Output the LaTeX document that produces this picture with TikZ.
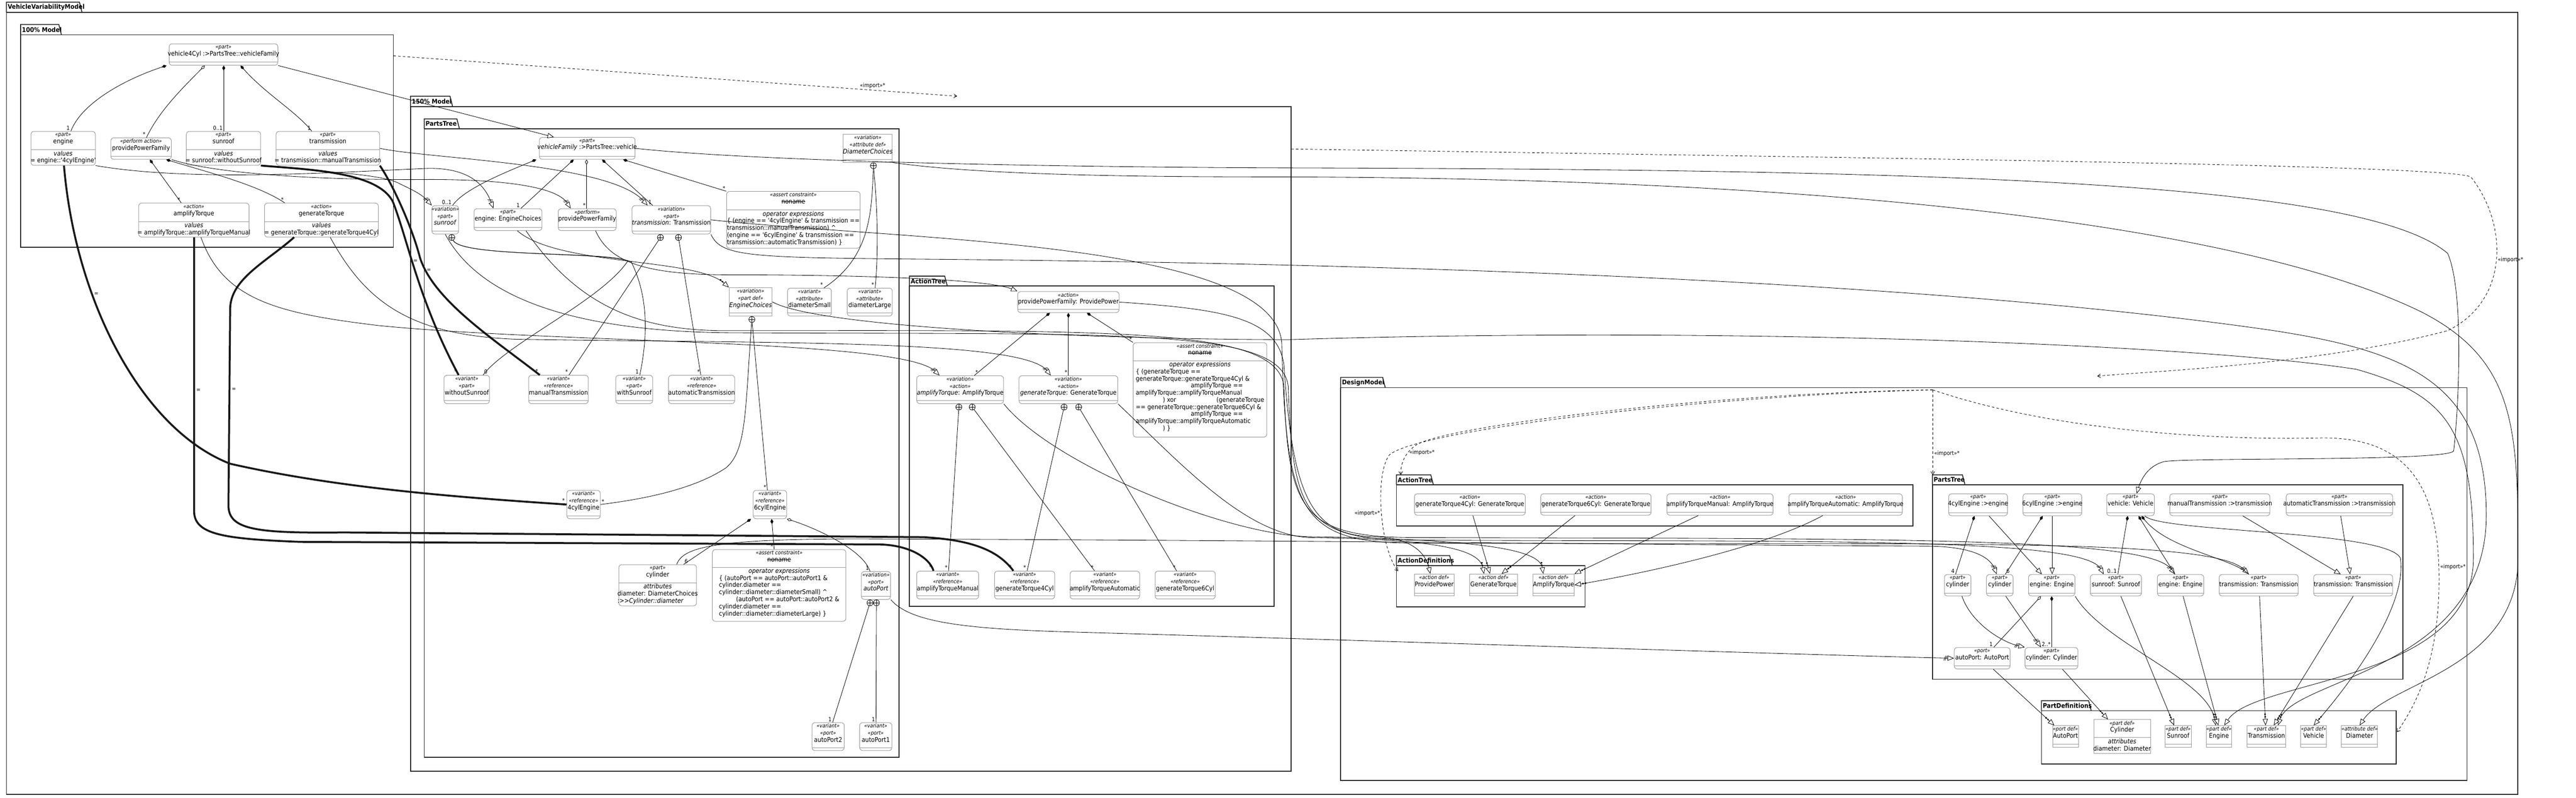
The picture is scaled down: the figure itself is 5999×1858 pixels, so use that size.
\documentclass[tikz,border=0pt]{standalone}
\usepackage{fontspec}
\setmainfont{DejaVu Sans Condensed}[Ligatures=TeXOff]
\usetikzlibrary{arrows.meta,fit}

\newcommand{\nmsize}{\fontsize{15}{16.5}\selectfont}
\newcommand{\st}[1]{{\fontsize{12.5}{16.5}\selectfont\itshape «#1»}}
\newcommand{\strk}[1]{\setbox0\hbox{#1}\rlap{\rule[0.3em]{\wd0}{0.8pt}}\box0}
\newcommand{\ubox}[7][usage]{%
  \node[#1, fit={(#3,#4) (#5,#6)}] (#2) {};
  \draw[sepl] (#3,{#6-7}) -- (#5,{#6-7});
  \node[hdr] at (#2.north) {#7};}
\newcommand{\cbox}[9][usage]{%
  \node[#1, fit={(#3,#4) (#5,#6)}] (#2) {};
  \draw[sepl] (#3,#8) -- (#5,#8);
  \node[hdr] at (#2.north) {#7};
  \node[cmp] at ({(#3+#5)/2},#8) {#9};}
\newcommand{\pkg}[8]{%
  \draw[frm] (#2,#5) rectangle (#6,#7);
  \draw[frm] (#2,#5) -- (#2,#3) -- ({#4-6},#3) -- (#4,#5);
  \node[tabl] (#1) at (#2,{(#3+#5)/2}) {#8};}

\begin{document}
\begin{tikzpicture}[x=1pt,y=-1pt,
    usage/.style={draw=black!40, line width=1.2pt, rounded corners=7pt, fill=white, inner sep=0pt},
    pdef/.style={draw=black!40, line width=1.2pt, fill=white, inner sep=0pt},
    sepl/.style={draw=black!40, line width=1.2pt},
    hdr/.style={anchor=north, align=center, inner sep=2pt, yshift=-1pt, font=\nmsize},
    cmp/.style={anchor=north, align=center, inner sep=2pt, font=\nmsize},
    frm/.style={draw=black!85, line width=2pt},
    tabl/.style={anchor=west, inner sep=3pt, font=\fontsize{15}{16}\selectfont\bfseries},
    conn/.style={draw, line width=1pt},
    comp/.style={conn, {Diamond[length=12pt,width=7pt]}-},
    aggr/.style={conn, {Diamond[length=12pt,width=7pt,fill=white]}-},
    gen/.style={conn, -{Triangle[length=15pt,width=12pt,fill=white]}},
    redef/.style={conn, -{Bar[width=11pt,slant=.4,sep=2pt]Bar[width=11pt,slant=.4,sep=3pt]Triangle[length=15pt,width=12pt,fill=white]}},
    typing/.style={conn, -{Circle[length=4pt,sep=2pt]Circle[length=4pt,sep=3pt]Triangle[length=15pt,width=12pt,fill=white]}},
    bind/.style={draw=black!90, line width=4.5pt},
    import/.style={conn, dash pattern=on 6pt off 5pt, -{Straight Barb[length=7pt,width=9pt]}},
    memb/.style={circle, draw, fill=white, minimum size=14pt, inner sep=0pt, line width=1pt,
      path picture={\draw[line width=1pt] (path picture bounding box.north) -- (path picture bounding box.south)
        (path picture bounding box.west) -- (path picture bounding box.east);}},
    mult/.style={font=\fontsize{13}{14}\selectfont, inner sep=2pt, anchor=south east},
    eq/.style={font=\fontsize{13}{14}\selectfont, inner sep=3pt, anchor=west},
    implbl/.style={font=\fontsize{13}{14}\selectfont, inner sep=3pt}]
  \useasboundingbox (0,0) rectangle (5999,1858);

  \pkg{tVVM}{15}{5}{191}{29}{5863}{1850}{VehicleVariabilityModel}
  \pkg{t100}{48}{57}{143}{81}{916}{576}{100\% Model}
  \pkg{t150}{956}{224}{1054}{248}{3007}{1796}{150\% Model}
  \pkg{tPT}{988}{277}{1070}{300}{2094}{1764}{PartsTree}
  \pkg{tAT}{2118}{643}{2206}{666}{2967}{1412}{ActionTree}
  \pkg{tDM}{3122}{879}{3226}{903}{5745}{1818}{DesignModel}
  \pkg{tDAT}{3252}{1106}{3338}{1129}{4455}{1225}{ActionTree}
  \pkg{tDAD}{3252}{1294}{3382}{1317}{3691}{1413}{ActionDefinitions}
  \pkg{tDPT}{4500}{1106}{4576}{1129}{5596}{1582}{PartsTree}
  \pkg{tDPD}{4754}{1632}{4870}{1655}{5580}{1779}{PartDefinitions}

  \ubox{v4}{394}{102}{647}{152}{\st{part}\\vehicle4Cyl :>PartsTree::vehicleFamily}
  \cbox{eng100}{72}{306}{222}{385}{\st{part}\\engine}{349}{\textit{values}\\= engine::'4cylEngine'}
  \ubox{ppf100}{258}{321}{399}{371}{\st{perform action}\\providePowerFamily}
  \cbox{sun100}{434}{306}{607}{385}{\st{part}\\sunroof}{349}{\textit{values}\\= sunroof::withoutSunroof}
  \cbox{trn100}{643}{306}{884}{385}{\st{part}\\transmission}{349}{\textit{values}\\= transmission::manualTransmission}
  \cbox{amp100}{323}{473}{580}{552}{\st{action}\\amplifyTorque}{516}{\textit{values}\\= amplifyTorque::amplifyTorqueManual}
  \cbox{gen100}{616}{473}{881}{552}{\st{action}\\generateTorque}{516}{\textit{values}\\= generateTorque::generateTorque4Cyl}

  \ubox{vf}{1256}{320}{1479}{371}{\st{part}\\\textit{vehicleFamily} :>PartsTree::vehicle}
  \ubox[pdef]{dch}{1964}{313}{2078}{378}{\st{variation}\\\st{attribute def}\\\textit{DiameterChoices}}
  \ubox{sun150}{1006}{479}{1068}{545}{\st{variation}\\\st{part}\\\textit{sunroof}}
  \ubox{eng150}{1104}{486}{1262}{537}{\st{part}\\engine: EngineChoices}
  \ubox{ppf150}{1300}{486}{1435}{537}{\st{perform}\\providePowerFamily}
  \ubox{trn150}{1472}{479}{1655}{545}{\st{variation}\\\st{part}\\\textit{transmission}: Transmission}
  \cbox{con1}{1692}{446}{2003}{578}{\st{assert constraint}\\\strk{noname}}{489}{\begin{tabular}{@{}l@{}}\multicolumn{1}{@{}c@{}}{\textit{operator expressions}}\\
    \{ (engine == '4cylEngine' \& transmission ==\\
    transmission::manualTransmission) \textasciicircum\\
    (engine == '6cylEngine' \& transmission ==\\
    transmission::automaticTransmission) \}\end{tabular}}
  \ubox[pdef]{ech}{1698}{670}{1798}{736}{\st{variation}\\\st{part def}\\\textit{EngineChoices}}
  \ubox{dsm}{1834}{671}{1936}{736}{\st{variant}\\\st{attribute}\\diameterSmall}
  \ubox{dlg}{1973}{671}{2078}{736}{\st{variant}\\\st{attribute}\\diameterLarge}
  \ubox{wos}{1034}{874}{1140}{940}{\st{variant}\\\st{part}\\withoutSunroof}
  \ubox{mtr}{1231}{874}{1370}{940}{\st{variant}\\\st{reference}\\manualTransmission}
  \ubox{wsr}{1434}{874}{1520}{940}{\st{variant}\\\st{part}\\withSunroof}
  \ubox{atr}{1557}{874}{1711}{940}{\st{variant}\\\st{reference}\\automaticTransmission}
  \ubox{e4}{1320}{1142}{1398}{1208}{\st{variant}\\\st{reference}\\4cylEngine}
  \ubox{e6}{1754}{1142}{1832}{1208}{\st{variant}\\\st{reference}\\6cylEngine}
  \cbox{cyl150}{1441}{1315}{1622}{1411}{\st{part}\\cylinder}{1357}{\begin{tabular}{@{}l@{}}\multicolumn{1}{@{}c@{}}{\textit{attributes}}\\
    diameter: DiameterChoices\\:>>\textit{Cylinder::diameter}\end{tabular}}
  \cbox{con2}{1659}{1280}{1970}{1447}{\st{assert constraint}\\\strk{noname}}{1321}{\begin{tabular}{@{}l@{}}\multicolumn{1}{@{}c@{}}{\textit{operator expressions}}\\
    \{ (autoPort == autoPort::autoPort1 \&\\
    cylinder.diameter ==\\
    cylinder::diameter::diameterSmall) \textasciicircum\\
    \hspace*{40pt}(autoPort == autoPort::autoPort2 \&\\
    cylinder.diameter ==\\
    cylinder::diameter::diameterLarge) \}\end{tabular}}
  \ubox{apv}{2006}{1331}{2074}{1396}{\st{variation}\\\st{port}\\\textit{autoPort}}
  \ubox{ap2}{1891}{1683}{1966}{1748}{\st{variant}\\\st{port}\\autoPort2}
  \ubox{ap1}{2002}{1683}{2077}{1748}{\st{variant}\\\st{port}\\autoPort1}

  \ubox{ppfa}{2370}{679}{2606}{728}{\st{action}\\providePowerFamily: ProvidePower}
  \ubox{ampv}{2135}{875}{2337}{940}{\st{variation}\\\st{action}\\\textit{amplifyTorque}: AmplifyTorque}
  \ubox{genv}{2373}{875}{2603}{940}{\st{variation}\\\st{action}\\\textit{generateTorque}: GenerateTorque}
  \cbox{con3}{2639}{798}{2950}{1018}{\st{assert constraint}\\\strk{noname}}{840}{\begin{tabular}{@{}l@{}}\multicolumn{1}{@{}c@{}}{\textit{operator expressions}}\\
    \{ (generateTorque ==\\
    generateTorque::generateTorque4Cyl \&\\
    \hspace*{128pt}amplifyTorque ==\\
    amplifyTorque::amplifyTorqueManual\\
    \hspace*{63pt}) xor\hspace*{94pt}(generateTorque\\
    == generateTorque::generateTorque6Cyl \&\\
    \hspace*{128pt}amplifyTorque ==\\
    amplifyTorque::amplifyTorqueAutomatic\\
    \hspace*{63pt}) \}\end{tabular}}
  \ubox{atm}{2135}{1330}{2279}{1395}{\st{variant}\\\st{reference}\\amplifyTorqueManual}
  \ubox{gt4}{2316}{1330}{2456}{1395}{\st{variant}\\\st{reference}\\generateTorque4Cyl}
  \ubox{ata}{2492}{1330}{2654}{1395}{\st{variant}\\\st{reference}\\amplifyTorqueAutomatic}
  \ubox{gt6}{2690}{1330}{2830}{1395}{\st{variant}\\\st{reference}\\generateTorque6Cyl}

  \ubox{dgt4}{3294}{1150}{3552}{1200}{\st{action}\\generateTorque4Cyl: GenerateTorque}
  \ubox{dgt6}{3588}{1150}{3845}{1200}{\st{action}\\generateTorque6Cyl: GenerateTorque}
  \ubox{datm}{3882}{1150}{4129}{1200}{\st{action}\\amplifyTorqueManual: AmplifyTorque}
  \ubox{data}{4166}{1150}{4430}{1200}{\st{action}\\amplifyTorqueAutomatic: AmplifyTorque}
  \ubox[pdef]{dpp}{3294}{1337}{3386}{1388}{\st{action def}\\ProvidePower}
  \ubox[pdef]{dgt}{3422}{1337}{3534}{1388}{\st{action def}\\GenerateTorque}
  \ubox[pdef]{dat}{3570}{1337}{3666}{1388}{\st{action def}\\AmplifyTorque}

  \ubox{d4e}{4538}{1150}{4675}{1201}{\st{part}\\4cylEngine :>engine}
  \ubox{d6e}{4711}{1150}{4848}{1201}{\st{part}\\6cylEngine :>engine}
  \ubox{dveh}{4906}{1150}{5017}{1201}{\st{part}\\vehicle: Vehicle}
  \ubox{dmt}{5053}{1150}{5286}{1201}{\st{part}\\manualTransmission :>transmission}
  \ubox{dat2}{5324}{1150}{5572}{1201}{\st{part}\\automaticTransmission :>transmission}
  \ubox{dc4}{4528}{1338}{4590}{1388}{\st{part}\\cylinder}
  \ubox{dc6}{4626}{1338}{4688}{1388}{\st{part}\\cylinder}
  \ubox{den1}{4724}{1338}{4832}{1388}{\st{part}\\engine: Engine}
  \ubox{dsun}{4868}{1338}{4987}{1388}{\st{part}\\sunroof: Sunroof}
  \ubox{den2}{5024}{1338}{5132}{1388}{\st{part}\\engine: Engine}
  \ubox{dtr1}{5168}{1338}{5352}{1388}{\st{part}\\transmission: Transmission}
  \ubox{dtr2}{5388}{1338}{5572}{1388}{\st{part}\\transmission: Transmission}
  \ubox{dap}{4551}{1508}{4681}{1558}{\st{port}\\autoPort: AutoPort}
  \ubox{dcyl}{4716}{1508}{4839}{1558}{\st{part}\\cylinder: Cylinder}
  \ubox[pdef]{pAP}{4780}{1690}{4840}{1740}{\st{port def}\\AutoPort}
  \cbox[pdef]{pCyl}{4876}{1676}{5008}{1755}{\st{part def}\\Cylinder}{1718}{\textit{attributes}\\diameter: Diameter}
  \ubox[pdef]{pSun}{5042}{1690}{5103}{1740}{\st{part def}\\Sunroof}
  \ubox[pdef]{pEng}{5138}{1690}{5197}{1740}{\st{part def}\\Engine}
  \ubox[pdef]{pTr}{5233}{1690}{5323}{1740}{\st{part def}\\Transmission}
  \ubox[pdef]{pVeh}{5358}{1690}{5418}{1740}{\st{part def}\\Vehicle}
  \ubox[pdef]{pDia}{5453}{1690}{5537}{1740}{\st{attribute def}\\Diameter}

  \node[memb] (sun150m) at (1052,553) {};
  \node[memb] (trn150m1) at (1538,553) {};
  \node[memb] (trn150m2) at (1580,553) {};
  \node[memb] (echm) at (1751,744) {};
  \node[memb] (dchm) at (2034,386) {};
  \node[memb] (apvm1) at (2026,1404) {};
  \node[memb] (apvm2) at (2041,1404) {};
  \node[memb] (ampvm1) at (2233,948) {};
  \node[memb] (ampvm2) at (2264,948) {};
  \node[memb] (genvm1) at (2478,948) {};
  \node[memb] (genvm2) at (2512,948) {};

  \coordinate (imp100) at (916,130);
  \coordinate (imp150) at (2229,224);
  \coordinate (imp150r) at (3007,347);
  \coordinate (impDM) at (4884,876);
  \coordinate (impsrc) at (4501,908);
  \coordinate (impAT) at (3262,1106);
  \coordinate (impAD) at (3256,1330);
  \coordinate (impPT) at (4501,1106);
  \coordinate (impPD) at (5582,1705);

  \draw[comp] (v4.south -| 388,0) .. controls (290,185) and (190,240) .. (eng100.north -| 165,0) node[mult,pos=1]{1};
  \draw[aggr] (v4.south -| 477,0) .. controls (420,210) and (370,260) .. (ppf100.north -| 341,0) node[mult,pos=1]{*};
  \draw[comp] (v4.south -| 521,0) -- (sun100.north -| 521,0) node[mult,pos=1]{0..1};
  \draw[comp] (v4.south -| 560,0) .. controls (620,220) and (690,260) .. (trn100.north -| 726,0) node[mult,pos=1]{1};
  \draw[comp] (ppf100.south -| 349,0) -- (amp100.north -| 422,0) node[mult,pos=1]{*};
  \draw[comp] (ppf100.south -| 387,0) .. controls (480,400) and (600,430) .. (gen100.north -| 663,0) node[mult,pos=1]{*};
  \draw[gen] (v4.south east) -- (vf.north -| 1290,0);

  \draw[comp] (vf.south -| 1249,0) .. controls (1180,400) and (1080,440) .. (sun150.north -| 1054,0) node[mult,pos=1]{0..1};
  \draw[comp] (vf.south -| 1336,0) -- (eng150.north -| 1213,0) node[mult,pos=1]{1};
  \draw[aggr] (vf.south -| 1366,0) -- (ppf150.north -| 1366,0) node[mult,pos=1]{*};
  \draw[comp] (vf.south -| 1402,0) -- (trn150.north -| 1520,0) node[mult,pos=1]{1};
  \draw[comp] (vf.south -| 1451,0) -- (con1.north west) node[mult,pos=1]{*};
  \draw[conn] (sun150m) .. controls (1075,600) and (1420,585) .. (1462,608) .. controls (1400,700) and (1180,800) .. (wos.north -| 1125,0) node[mult,pos=1,anchor=south west]{0};
  \draw[conn] (sun150m) .. controls (1075,600) and (1420,585) .. (1470,610) .. controls (1515,700) and (1505,800) .. (wsr.north -| 1490,0) node[mult,pos=1]{1};
  \draw[conn] (trn150m1) -- (mtr.north -| 1325,0) node[mult,pos=1]{*};
  \draw[conn] (trn150m2) -- (atr.north -| 1632,0) node[mult,pos=1]{*};
  \draw[conn] (echm) .. controls (1735,950) and (1740,1050) .. (1690,1090) .. controls (1600,1150) and (1450,1168) .. (e4.east) node[mult,pos=1,anchor=south west]{*};
  \draw[conn] (echm) -- (e6.north -| 1787,0) node[mult,pos=1]{*};
  \draw[conn] (dchm) .. controls (2030,500) and (2025,600) .. (dsm.north -| 1919,0) node[mult,pos=1]{*};
  \draw[conn] (dchm) .. controls (2045,500) and (2045,600) .. (dlg.north -| 2038,0) node[mult,pos=1]{*};
  \draw[comp] (e6.south -| 1749,0) -- (cyl150.north -| 1592,0) node[mult,pos=1,anchor=south west]{6};
  \draw[comp] (e6.south -| 1797,0) -- (con2.north -| 1803,0) node[mult,pos=1]{*};
  \draw[aggr] (e6.south east) .. controls (1900,1230) and (2010,1280) .. (apv.north -| 2026,0) node[mult,pos=1]{1};
  \draw[conn] (apvm1) -- (ap2.north -| 1939,0) node[mult,pos=1]{1};
  \draw[conn] (apvm2) -- (ap1.north -| 2040,0) node[mult,pos=1]{1};

  \draw[comp] (ppfa.south -| 2445,0) -- (ampv.north -| 2269,0) node[mult,pos=1,anchor=south west]{*};
  \draw[comp] (ppfa.south -| 2488,0) -- (genv.north -| 2488,0) node[mult,pos=1]{*};
  \draw[comp] (ppfa.south -| 2531,0) -- (con3.north west) node[mult,pos=1]{*};
  \draw[conn] (ampvm1) -- (atm.north -| 2209,0) node[mult,pos=1]{*};
  \draw[conn] (ampvm2) -- (ata.north -| 2549,0) node[mult,pos=1]{*};
  \draw[conn] (genvm1) -- (gt4.north -| 2392,0) node[mult,pos=1]{*};
  \draw[conn] (genvm2) -- (gt6.north -| 2740,0) node[mult,pos=1]{*};

  \draw[bind] (eng100.south -| 149,0) .. controls (175,700) and (330,1000) .. (536,1080) node[eq,pos=.33]{=} .. controls (800,1140) and (1100,1160) .. (e4.west) node[mult,pos=1]{*};
  \draw[bind] (amp100.south -| 452,0) -- (452,1190) node[eq,pos=.56]{=} .. controls (452,1245) and (520,1255) .. (700,1262) -- (2050,1268) .. controls (2120,1270) and (2165,1300) .. (atm.north -| 2174,0) node[mult,pos=1]{*};
  \draw[bind] (gen100.south -| 685,0) .. controls (620,610) and (536,650) .. (536,720) -- (532,1177) node[eq,pos=.41]{=} .. controls (532,1235) and (600,1242) .. (800,1240) -- (2150,1251) .. controls (2280,1258) and (2330,1290) .. (gt4.north -| 2360,0) node[mult,pos=1]{*};
  \draw[bind] (sun100.south east) .. controls (720,395) and (880,400) .. (915,470) .. controls (950,560) and (975,700) .. (wos.north -| 1068,0) node[mult,pos=1]{*};
  \path (sun100.south east) .. controls (720,395) and (880,400) .. (915,470) .. controls (950,560) and (975,700) .. (wos.north -| 1068,0) node[eq,pos=.42]{=};
  \draw[bind] (trn100.south east) .. controls (915,430) and (960,530) .. (978,600) .. controls (1010,700) and (1150,790) .. (mtr.north -| 1257,0) node[mult,pos=1]{*};
  \path (trn100.south east) .. controls (915,430) and (960,530) .. (978,600) .. controls (1010,700) and (1150,790) .. (mtr.north -| 1257,0) node[eq,pos=.1]{=};

  \draw[redef] (eng100.south east) .. controls (450,425) and (800,400) .. (1000,392) .. controls (1080,392) and (1125,420) .. (eng150.north -| 1149,0);
  \draw[redef] (sun100.south east) .. controls (750,400) and (880,405) .. (925,425) .. controls (955,440) and (980,450) .. (sun150.north west);
  \draw[redef] (trn100.east) .. controls (1000,370) and (1420,380) .. (trn150.north -| 1508,0);
  \draw[redef] (ppf100.south east) .. controls (520,410) and (800,420) .. (1000,418) .. controls (1200,418) and (1300,440) .. (ppf150.north -| 1329,0);
  \draw[redef] (amp100.south -| 468,0) .. controls (520,700) and (650,730) .. (880,758) .. controls (1300,800) and (2100,790) .. (ampv.north -| 2188,0);
  \draw[redef] (gen100.south -| 769,0) .. controls (850,700) and (950,780) .. (1200,790) .. controls (1800,800) and (2380,790) .. (genv.north -| 2447,0);
  \draw[gen] (ppf150.south -| 1387,0) .. controls (1420,610) and (1500,640) .. (1700,640) .. controls (2000,640) and (2300,650) .. (ppfa.north west);
  \draw[typing] (eng150.south -| 1205,0) .. controls (1300,620) and (1620,600) .. (ech.north west);

  \draw[gen] (vf.east) .. controls (1800,380) and (2600,390) .. (3000,391) .. controls (4500,395) and (5500,420) .. (5700,590) .. controls (5740,680) and (5725,960) .. (5714,1050) .. controls (5705,1075) and (5100,1065) .. (5040,1075) .. controls (5000,1085) and (4985,1120) .. (dveh.north -| 4976,0);
  \draw[gen] (dch.south east) .. controls (2300,410) and (2700,412) .. (3000,412) .. controls (4500,417) and (5300,560) .. (5640,727) .. controls (5860,840) and (5864,1000) .. (5864,1300) .. controls (5864,1560) and (5560,1590) .. (pDia.north);
  \draw[typing] (trn150.south east) .. controls (1680,600) and (1750,600) .. (2200,604) .. controls (3000,612) and (4400,640) .. (5295,770) .. controls (5620,820) and (5790,900) .. (5790,1200) .. controls (5790,1560) and (5340,1580) .. (pTr.north -| 5305,0);
  \draw[gen] (ech.east) .. controls (1900,760) and (2500,790) .. (3000,791) .. controls (4000,760) and (5100,800) .. (5487,860) .. controls (5700,920) and (5760,1000) .. (5760,1300) .. controls (5760,1590) and (5250,1580) .. (pEng.north -| 5180,0);
  \draw[redef] (sun150.south) .. controls (1120,700) and (1350,772) .. (1700,775) .. controls (2600,780) and (2985,760) .. (3000,900) .. controls (3010,1200) and (3040,1258) .. (3300,1258) .. controls (4200,1262) and (4850,1250) .. (dsun.north -| 4899,0);
  \draw[redef] (eng150.south -| 1225,0) .. controls (1350,720) and (1500,772) .. (1700,770) .. controls (2600,770) and (2975,760) .. (2990,900) .. controls (3000,1190) and (3030,1252) .. (3300,1252) .. controls (4400,1255) and (5000,1250) .. (den2.north -| 5065,0);
  \draw[redef] (trn150.east) .. controls (2100,560) and (2970,560) .. (2985,800) .. controls (2995,1200) and (3030,1265) .. (3300,1265) .. controls (4500,1270) and (5150,1250) .. (dtr1.north -| 5237,0);
  \draw[redef] (cyl150.north -| 1576,0) .. controls (1590,1275) and (1660,1255) .. (2000,1255) .. controls (3000,1258) and (4000,1270) .. (4500,1272) .. controls (4600,1275) and (4635,1300) .. (dc6.north -| 4650,0);
  \draw[redef] (apv.south east) .. controls (2120,1450) and (2250,1465) .. (2500,1472) .. controls (3300,1495) and (4200,1525) .. (dap.west);
  \draw[typing] (ampv.south east) .. controls (2450,1080) and (2850,1245) .. (3050,1250) .. controls (3450,1256) and (3585,1280) .. (dat.north -| 3594,0);
  \draw[typing] (genv.south east) .. controls (2750,1080) and (2900,1245) .. (3050,1252) .. controls (3350,1256) and (3445,1280) .. (dgt.north -| 3456,0);
  \draw[typing] (ppfa.east) .. controls (2850,720) and (2975,740) .. (2990,850) .. controls (3010,1150) and (3050,1248) .. (3200,1250) .. controls (3290,1252) and (3320,1290) .. (dpp.north -| 3331,0);

  \draw[typing] (dgt4.south -| 3430,0) -- (dgt.north -| 3470,0);
  \draw[typing] (dgt6.south -| 3668,0) -- (dgt.north -| 3497,0);
  \draw[typing] (datm.south -| 3955,0) -- (dat.north east);
  \draw[typing] (data.south -| 4245,0) .. controls (4100,1280) and (3800,1340) .. (dat.east);

  \draw[comp] (d4e.south -| 4598,0) -- (dc4.north -| 4554,0) node[mult,pos=1]{4};
  \draw[gen] (d4e.south -| 4632,0) -- (den1.north -| 4755,0);
  \draw[comp] (d6e.south -| 4757,0) -- (dc6.north -| 4670,0) node[mult,pos=1,anchor=south west]{6};
  \draw[gen] (d6e.south -| 4779,0) -- (den1.north -| 4779,0);
  \draw[comp] (dveh.south -| 4955,0) -- (dsun.north -| 4932,0) node[mult,pos=1]{0..1};
  \draw[comp] (dveh.south -| 4980,0) -- (den2.north -| 5065,0);
  \draw[comp] (dveh.south -| 4987,0) .. controls (5050,1280) and (5200,1300) .. (dtr1.north -| 5237,0);
  \draw[gen] (dmt.south -| 5223,0) -- (dtr2.north -| 5451,0);
  \draw[gen] (dat2.south -| 5451,0) -- (dtr2.north -| 5473,0);
  \draw[aggr] (den1.south -| 4753,0) -- (dap.north -| 4643,0) node[mult,pos=1]{1};
  \draw[comp] (den1.south -| 4778,0) -- (dcyl.north -| 4778,0) node[mult,pos=1]{2..*};
  \draw[redef] (dc4.south -| 4569,0) .. controls (4590,1450) and (4660,1495) .. (dcyl.north west);
  \draw[redef] (dc6.south -| 4671,0) -- (dcyl.north -| 4753,0);
  \draw[typing] (dap.south -| 4642,0) -- (pAP.north -| 4784,0);
  \draw[typing] (dcyl.south -| 4803,0) -- (pCyl.north -| 4909,0);
  \draw[typing] (dsun.south -| 4939,0) -- (pSun.north -| 5063,0);
  \draw[typing] (den1.south east) .. controls (4900,1500) and (5140,1580) .. (pEng.north -| 5160,0);
  \draw[typing] (den2.south -| 5084,0) -- (pEng.north -| 5166,0);
  \draw[typing] (dtr1.south -| 5262,0) -- (pTr.north -| 5276,0);
  \draw[typing] (dtr2.south -| 5480,0) -- (pTr.north -| 5295,0);
  \draw[typing] (dveh.south -| 4995,0) .. controls (5030,1240) and (5560,1235) .. (5590,1300) .. controls (5605,1400) and (5500,1560) .. (pVeh.north);

  \draw[import] (imp100) -- (imp150) node[implbl,pos=.85,above]{«import»*};
  \draw[import] (imp150r) .. controls (4500,370) and (5700,385) .. (5754,412) .. controls (5840,520) and (5845,700) .. (5700,770) node[implbl,pos=.5,right]{«import»*} .. controls (5400,850) and (5000,865) .. (impDM);
  \draw[import] (impsrc) .. controls (4000,915) and (3380,990) .. (3300,1035) .. controls (3270,1055) and (3262,1080) .. (impAT) node[implbl,pos=.3,right]{«import»*};
  \draw[import] (impsrc) .. controls (4000,920) and (3300,1000) .. (3235,1060) .. controls (3200,1110) and (3215,1280) .. (impAD) node[implbl,pos=.5,left]{«import»*};
  \draw[import] (impsrc) -- (impPT) node[implbl,pos=.75,right]{«import»*};
  \draw[import] (impsrc) .. controls (4800,1010) and (5200,1025) .. (5400,1020) .. controls (5620,1015) and (5680,1150) .. (5680,1350) node[implbl,pos=.95,right]{«import»*} .. controls (5680,1550) and (5620,1650) .. (impPD);
\end{tikzpicture}
\end{document}
